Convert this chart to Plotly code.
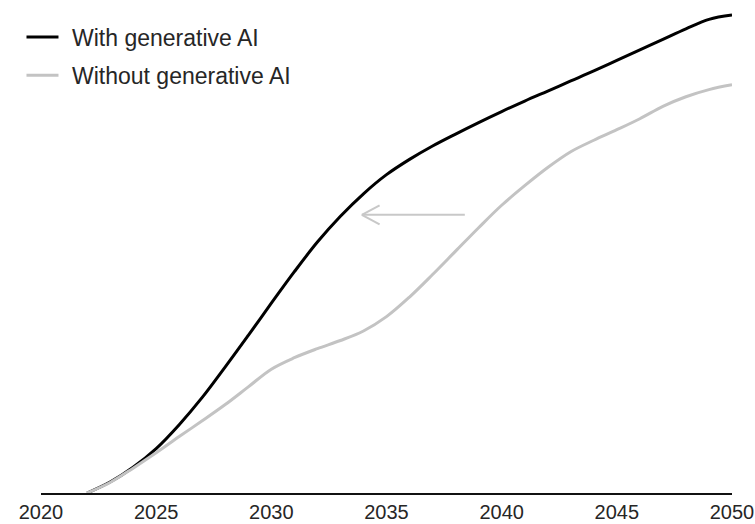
import plotly.graph_objects as go

# ---- data (arbitrary index units, 0 at 2022) ----
years = list(range(2022, 2051))
with_genai = [0, 2.3, 5.4, 9.3, 14.3, 20.0, 26.4, 33.0, 39.7, 46.3, 52.5, 57.9,
              62.6, 66.6, 69.8, 72.6, 75.1, 77.5, 79.8, 82.0, 84.1, 86.2, 88.3,
              90.5, 92.7, 94.9, 97.1, 99.1, 100.0]
without_genai = [0, 2.2, 5.2, 8.4, 11.8, 15.1, 18.5, 22.2, 25.9, 28.3, 30.2, 31.9,
                 33.9, 36.9, 41.0, 45.7, 50.6, 55.5, 60.2, 64.3, 68.1, 71.4, 73.8,
                 76.0, 78.3, 80.9, 82.9, 84.4, 85.4]
series_names = ["With generative AI", "Without generative AI"]
tick_years = [2020, 2025, 2030, 2035, 2040, 2045, 2050]

BLACK = "#000000"
GREY = "#c3c3c3"
ARROW_GREY = "#c8c8c8"
TEXT = "#262626"
FONT = "Liberation Sans, Arial, sans-serif"

fig = go.Figure()
fig.add_trace(go.Scatter(x=years, y=with_genai, name=series_names[0], mode="lines",
                         line=dict(color=BLACK, width=3, shape="spline", smoothing=1.0),
                         showlegend=False))
fig.add_trace(go.Scatter(x=years, y=without_genai, name=series_names[1], mode="lines",
                         line=dict(color=GREY, width=3, shape="spline", smoothing=1.0),
                         showlegend=False))

# ---- arrow annotation (open chevron) ----
arrow_y = 58.2
tip_x, tail_x, arm_x, arm_dy = 2033.93, 2038.4, 2034.7, 2.0
arrow_line = dict(color=ARROW_GREY, width=2)
shapes = [
    dict(type="line", xref="x", yref="y", x0=tail_x, y0=arrow_y, x1=tip_x, y1=arrow_y, line=arrow_line),
    dict(type="line", xref="x", yref="y", x0=arm_x, y0=arrow_y + arm_dy, x1=tip_x, y1=arrow_y, line=arrow_line),
    dict(type="line", xref="x", yref="y", x0=arm_x, y0=arrow_y - arm_dy, x1=tip_x, y1=arrow_y, line=arrow_line),
]

# ---- custom legend ----
annotations = []
legend_rows = [(series_names[0], BLACK, 0.944), (series_names[1], GREY, 0.865)]
for name, col, yp in legend_rows:
    shapes.append(dict(type="line", xref="paper", yref="paper", x0=-0.021, x1=0.0253,
                       y0=yp, y1=yp, line=dict(color=col, width=3)))
    annotations.append(dict(text=name, xref="paper", yref="paper", x=0.0423, y=yp - 0.002,
                            xanchor="left", yanchor="middle", showarrow=False,
                            font=dict(family=FONT, size=23, color=TEXT)))

fig.update_layout(
    width=755, height=524,
    margin=dict(l=41, r=23, t=10, b=31, autoexpand=False),
    paper_bgcolor="white", plot_bgcolor="white",
    shapes=shapes, annotations=annotations,
    xaxis=dict(range=[2020, 2050], tickvals=tick_years, ticktext=[str(t) for t in tick_years],
               showgrid=False, zeroline=False, showline=True, linecolor="#111111", linewidth=2,
               ticks="", automargin=False, tickfont=dict(family=FONT, size=20, color=TEXT)),
    yaxis=dict(range=[0, 101.05], visible=False, showgrid=False, zeroline=False, automargin=False),
    font=dict(family=FONT, color=TEXT),
)

# remove the default 8px page margin so the figure fills the window exactly
fig.write_html("out.html", config={"displayModeBar": False},
               post_script="document.body.style.margin='0';document.body.style.overflow='hidden';")
